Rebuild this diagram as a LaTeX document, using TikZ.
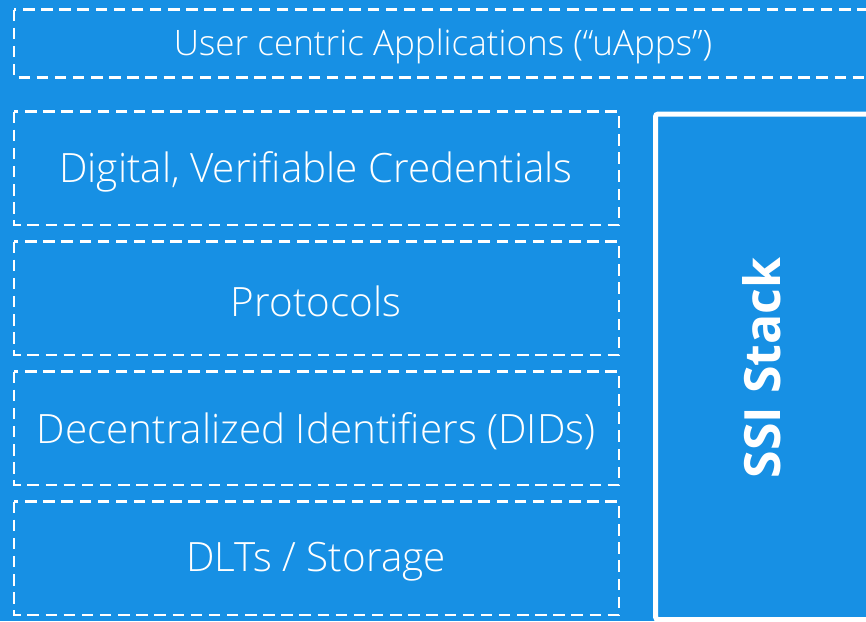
\documentclass[tikz,border=0pt]{standalone}
\usepackage{fontspec}
\setmainfont{Open Sans}
\newfontfamily\lightfont{Open Sans Light}
\definecolor{ssiblue}{RGB}{23,144,228}

\tikzset{
  layerbox/.style={draw=white, line width=2.2pt, dash pattern=on 8.6pt off 5pt},
  layertext/.style={text=white, font=\lightfont\fontsize{30.3}{35}\selectfont, inner sep=0pt},
  stackbox/.style={draw=white, line width=3.75pt, rounded corners=2pt},
}

\begin{document}
\begin{tikzpicture}[x=0.75pt,y=0.75pt,yscale=-1,xscale=1]
% background, sets the size of the picture
\fill[ssiblue] (0,0) rectangle (866,621);
\useasboundingbox (0,0) rectangle (866,621);
\clip (0,0) rectangle (866,621);

%Shape: top layer, runs out at the right
\draw[layerbox] (14,9.5) rectangle (872,77.5);
% Text Node
\draw (443,46) node [layertext, font=\lightfont\fontsize{26.3}{30}\selectfont] (uapps) {User centric Applications (“uApps”)};

%Shape: stack layers
\draw[layerbox] (14,111.5) rectangle (619,225);
\draw[layerbox] (14,241.5) rectangle (619,355);
\draw[layerbox] (14,371.5) rectangle (619,485);
\draw[layerbox] (14,501.5) rectangle (619,615);

% Text Node
\draw (316,172) node [layertext] (vc) {Digital, Verifiable Credentials};
% Text Node
\draw (316,301) node [layertext] (proto) {Protocols};
% Text Node
\draw (316,431) node [layertext] (dids) {Decentralized Identifiers (DIDs)};
% Text Node
\draw (316,562) node [layertext] (dlt) {DLTs / Storage};

%Shape: SSI stack frame
\draw[stackbox] (655.5,114) rectangle (880,619.5);
% Text Node
\draw (762,368) node [rotate=90, text=white, inner sep=0pt, font=\bfseries\fontsize{37.5}{42}\selectfont] (ssi) {SSI Stack};

\end{tikzpicture}
\end{document}
